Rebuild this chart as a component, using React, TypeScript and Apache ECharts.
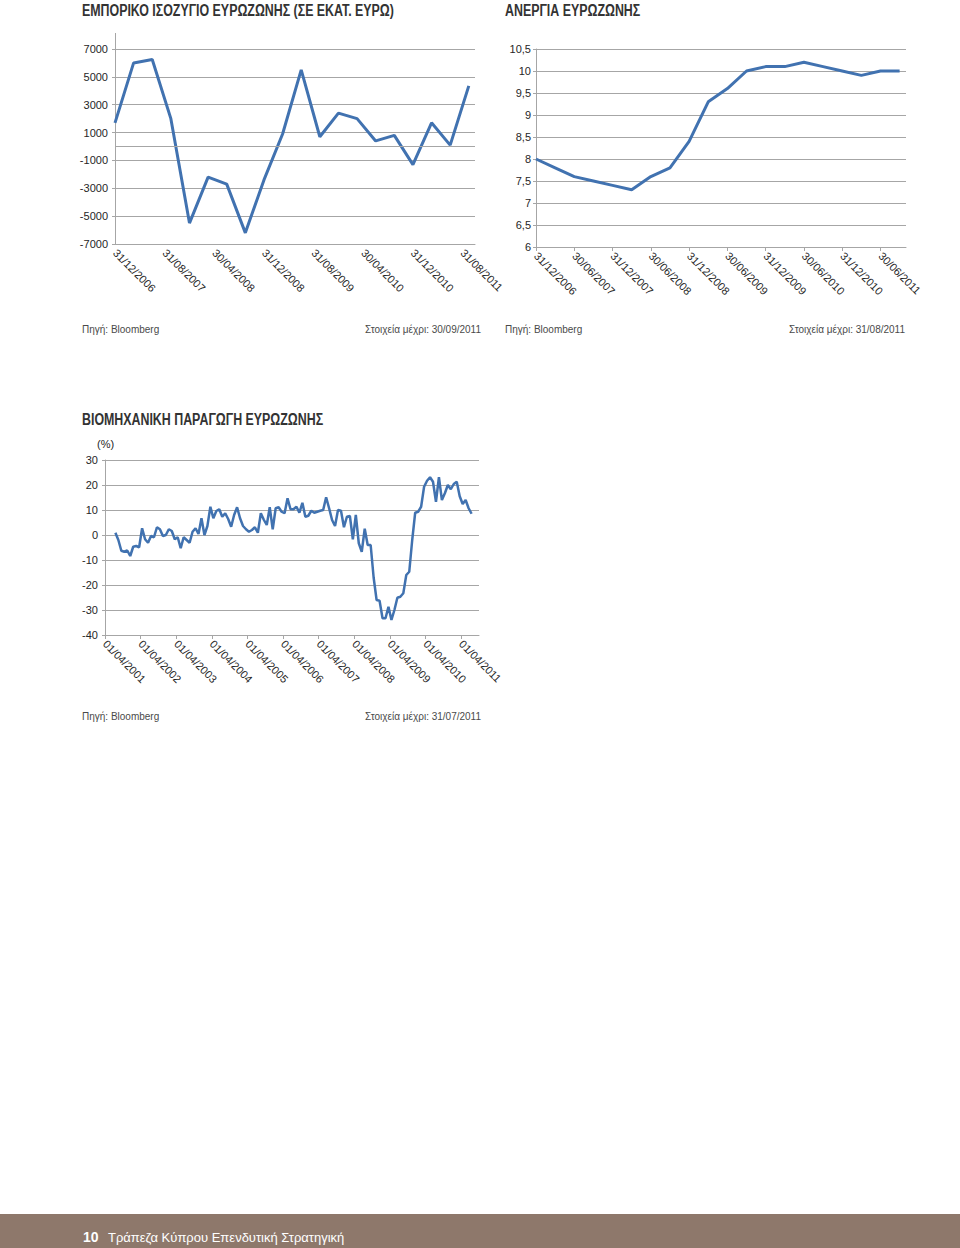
import React, { useEffect, useRef } from 'react';
import * as echarts from 'echarts';

// ---- Data ----
// Trade balance (EUR mn), quarterly from 31/12/2006
const tradeValues = [1700, 6000, 6250, 2000, -5500, -2200, -2700, -6200, -2400, 900, 5500, 700, 2400, 2000, 400, 800, -1300, 1700, 100, 4350];
// Unemployment (%), quarterly from 31/12/2006
const unemploymentValues = [8.0, 7.8, 7.6, 7.5, 7.4, 7.3, 7.6, 7.8, 8.4, 9.3, 9.6, 10.0, 10.1, 10.1, 10.2, 10.1, 10.0, 9.9, 10.0, 10.0];
// Industrial production (% y/y), monthly from 07/2001 to 07/2011
const ipValues = [
  0.9, -2, -6.3, -6.7, -6.2, -8.4, -4.7, -4.4, -4.9, 2.7, -1.7, -3.1, -0.4, -0.9, 3.1, 2.3, -0.4, 0, 2.3, 1.6, -1.7, -0.9, -5.3, -0.9, -2, -3.1, 1.3, 2.7, 0.4,
  6.7, 0, 3.6, 11.3, 6.7, 9.6, 10.3, 7.3, 8.7, 6.4, 3.3, 8, 11.1, 6.7, 3.6, 2.3, 1.3, 2, 3.1, 0.9, 8.7, 6.1, 4, 11.1, 2.3, 10.7, 11.1, 9.3, 8.7, 14.7, 10.3, 10.3,
  11.3, 8.9, 12.9, 7.3, 7.7, 9.7, 8.9, 9.3, 9.7, 10, 15.1, 10.7, 6, 3.6, 10, 9.7, 3.1, 7.3, 7.6, -1.7, 8, -3.3, -6.7, 2.5, -4, -4, -17, -26, -26.3, -33.3, -33.3, -28.7, -34, -30, -25.1, -24.7, -23.3, -16, -14.7, -2, 8.9, 9.3, 11.3, 19.3, 21.7, 23.1, 21.3, 13.3, 23.1, 14, 16.7, 20, 18.3, 20.4, 21.3, 15.5, 12.4, 14, 10.7, 8.5,
];
const ipStartOffset = 3; // months after 01/04/2001 (July 2001)

const titles = ['ΕΜΠΟΡΙΚΟ ΙΣΟΖΥΓΙΟ ΕΥΡΩΖΩΝΗΣ (ΣΕ ΕΚΑΤ. ΕΥΡΩ)', 'ΑΝΕΡΓΙΑ ΕΥΡΩΖΩΝΗΣ', 'ΒΙΟΜΗΧΑΝΙΚΗ ΠΑΡΑΓΩΓΗ ΕΥΡΩΖΩΝΗΣ'];
const sourceText = 'Πηγή: Bloomberg';
const dataUntil = ['Στοιχεία μέχρι: 30/09/2011', 'Στοιχεία μέχρι: 31/08/2011', 'Στοιχεία μέχρι: 31/07/2011'];
const footerPage = '10';
const footerText = 'Τράπεζα Κύπρου Επενδυτική Στρατηγική';

const pad = (n: number) => (n < 10 ? '0' + n : '' + n);
// month index from December 2006 -> end-of-month date
const eomLabel = (m: number) => {
  const total = 2006 * 12 + 11 + m;
  const year = Math.floor(total / 12);
  const month = (total % 12) + 1;
  const day = new Date(year, month, 0).getDate();
  return `${pad(day)}/${pad(month)}/${year}`;
};
// month index from April 2001 -> first-of-month date
const fomLabel = (m: number) => {
  const total = 2001 * 12 + 3 + m;
  const year = Math.floor(total / 12);
  const month = (total % 12) + 1;
  return `01/${pad(month)}/${year}`;
};

const FONT = '"Liberation Sans", Arial, Helvetica, sans-serif';
const GRID = '#a6a6a6';
const LINE = '#4172b0';
const TXT = '#262626';

export default function App() {
  const ref = useRef<HTMLDivElement>(null);
  useEffect(() => {
    if (!ref.current) return;
    const chart = echarts.init(ref.current, undefined, { renderer: 'svg' });

    const yAxisBase = {
      type: 'value' as const,
      axisLine: { show: true, lineStyle: { color: GRID, width: 1 } },
      axisTick: { show: true, length: 3, lineStyle: { color: GRID } },
      splitLine: { show: true, lineStyle: { color: GRID, width: 1 } },
      axisLabel: { color: TXT, fontSize: 11, fontFamily: FONT },
    };
    const xAxisBase = {
      type: 'value' as const,
      axisLine: { show: true, onZero: false, lineStyle: { color: GRID, width: 1 } },
      splitLine: { show: false },
      axisLabel: { color: TXT, fontSize: 11, fontFamily: FONT, rotate: -45, margin: 7, showMaxLabel: false },
    };

    const titleEl = (x: number, y: number, text: string) => ({
      type: 'text', x, y, scaleX: 0.775,
      style: { text, font: `bold 16px ${FONT}`, fill: '#333333', textAlign: 'left', textVerticalAlign: 'middle', align: 'left', verticalAlign: 'middle' },
    });
    const smallEl = (x: number, y: number, text: string, align: string) => ({
      type: 'text', x, y,
      style: { text, font: `10px ${FONT}`, fill: '#4a4a4a', textAlign: align, textVerticalAlign: 'middle', align, verticalAlign: 'middle' },
    });

    chart.setOption({
      animation: false,
      backgroundColor: '#ffffff',
      grid: [
        { left: 115, width: 360, top: 49, height: 195 },
        { left: 536, width: 370, top: 49, height: 198 },
        { left: 105, width: 374, top: 460, height: 175 },
      ],
      xAxis: [
        {
          ...xAxisBase, gridIndex: 0, min: 0, max: 58, interval: 8,
          axisTick: { show: false },
          axisLabel: { ...xAxisBase.axisLabel, formatter: (v: number) => (v % 8 === 0 ? eomLabel(v) : '') },
        },
        {
          ...xAxisBase, gridIndex: 1, min: 0, max: 58, interval: 6,
          axisTick: { show: true, length: 4, lineStyle: { color: GRID } },
          axisLabel: { ...xAxisBase.axisLabel, formatter: (v: number) => (v % 6 === 0 ? eomLabel(v) : '') },
        },
        {
          ...xAxisBase, gridIndex: 2, min: 0, max: 126, interval: 12,
          axisTick: { show: true, length: 4, lineStyle: { color: GRID } },
          axisLabel: { ...xAxisBase.axisLabel, formatter: (v: number) => (v % 12 === 0 ? fomLabel(v) : '') },
        },
      ],
      yAxis: [
        {
          ...yAxisBase, gridIndex: 0, min: -7000, max: 7000, interval: 2000,
          axisLabel: { ...yAxisBase.axisLabel, margin: 7, formatter: (v: number) => String(v) },
        },
        {
          ...yAxisBase, gridIndex: 1, min: 6, max: 10.5, interval: 0.5,
          axisLabel: { ...yAxisBase.axisLabel, margin: 5, formatter: (v: number) => String(v).replace('.', ',') },
        },
        {
          ...yAxisBase, gridIndex: 2, min: -40, max: 30, interval: 10,
          axisLabel: { ...yAxisBase.axisLabel, margin: 7, formatter: (v: number) => String(v) },
        },
      ],
      series: [
        {
          type: 'line', xAxisIndex: 0, yAxisIndex: 0, symbol: 'none',
          lineStyle: { color: LINE, width: 3 },
          data: tradeValues.map((v, i) => [i * 3, v]),
          markLine: {
            silent: true, symbol: 'none', label: { show: false },
            lineStyle: { color: GRID, width: 1, type: 'solid' },
            data: [{ yAxis: 0 }],
          },
          z: 3,
        },
        {
          type: 'line', xAxisIndex: 1, yAxisIndex: 1, symbol: 'none',
          lineStyle: { color: LINE, width: 3 },
          data: unemploymentValues.map((v, i) => [i * 3, v]),
        },
        {
          type: 'line', xAxisIndex: 2, yAxisIndex: 2, symbol: 'none',
          lineStyle: { color: LINE, width: 2.5 },
          data: ipValues.map((v, i) => [ipStartOffset + i + 0.5, v]),
        },
      ],
      graphic: [
        titleEl(82, 10, titles[0]),
        titleEl(505, 10, titles[1]),
        titleEl(82, 419, titles[2]),
        { type: 'line', shape: { x1: 115.5, y1: 33, x2: 115.5, y2: 49 }, style: { stroke: GRID, lineWidth: 1 } },
        smallEl(82, 329, sourceText, 'left'),
        smallEl(481, 329, dataUntil[0], 'right'),
        smallEl(505, 329, sourceText, 'left'),
        smallEl(905, 329, dataUntil[1], 'right'),
        smallEl(82, 716, sourceText, 'left'),
        smallEl(481, 716, dataUntil[2], 'right'),
        {
          type: 'text', x: 97, y: 444,
          style: { text: '(%)', font: `11px ${FONT}`, fill: TXT, textAlign: 'left', textVerticalAlign: 'middle', align: 'left', verticalAlign: 'middle' },
        },
        { type: 'rect', shape: { x: 0, y: 1214, width: 960, height: 34 }, style: { fill: '#8e786b' } },
        {
          type: 'text', x: 83, y: 1237,
          style: { text: footerPage, font: `bold 14px ${FONT}`, fill: '#ffffff', textAlign: 'left', textVerticalAlign: 'middle', align: 'left', verticalAlign: 'middle' },
        },
        {
          type: 'text', x: 108, y: 1237,
          style: { text: footerText, font: `13px ${FONT}`, fill: '#ffffff', textAlign: 'left', textVerticalAlign: 'middle', align: 'left', verticalAlign: 'middle' },
        },
      ],
    });
    return () => chart.dispose();
  }, []);
  return <div ref={ref} style={{ position: 'fixed', left: 0, top: 0, width: 960, height: 1248, background: '#fff' }} />;
}
